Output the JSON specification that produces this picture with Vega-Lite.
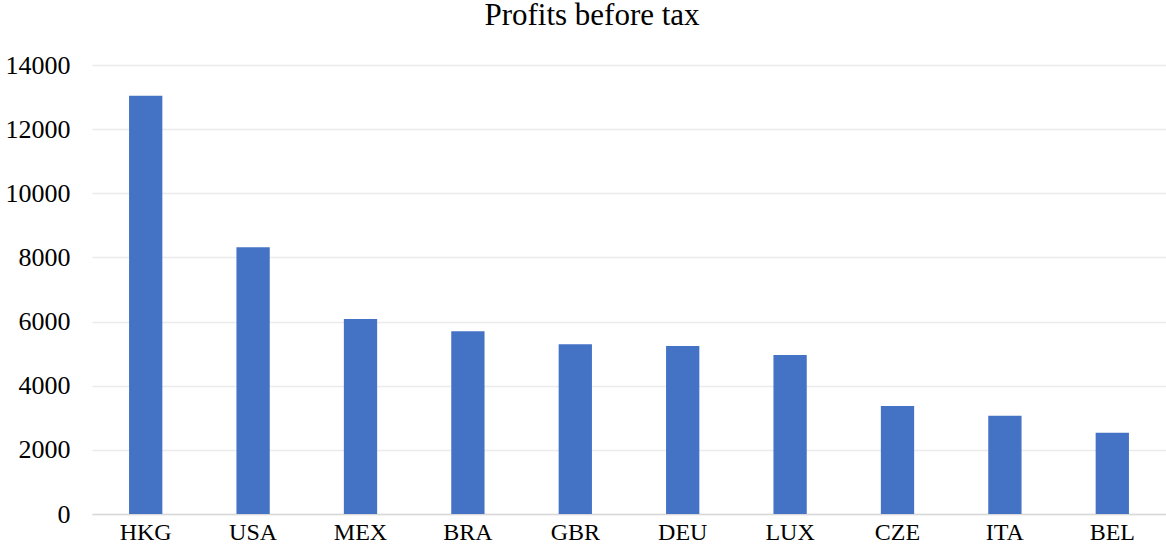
{
  "$schema": "https://vega.github.io/schema/vega-lite/v6.json",
  "width": 1074,
  "height": 449,
  "autosize": {"type": "none"},
  "padding": {"left": 92, "top": 65, "right": 0, "bottom": 37},
  "background": "white",
  "title": {
    "text": "Profits before tax",
    "font": "Liberation Serif",
    "fontSize": 31,
    "fontWeight": "normal",
    "color": "#000000",
    "anchor": "middle",
    "dx": -37,
    "offset": 20
  },
  "data": {
    "values": [
      {"country": "HKG", "profit": 13040},
      {"country": "USA", "profit": 8320},
      {"country": "MEX", "profit": 6080},
      {"country": "BRA", "profit": 5700},
      {"country": "GBR", "profit": 5290},
      {"country": "DEU", "profit": 5240},
      {"country": "LUX", "profit": 4960},
      {"country": "CZE", "profit": 3370},
      {"country": "ITA", "profit": 3060},
      {"country": "BEL", "profit": 2530}
    ]
  },
  "mark": {"type": "bar", "color": "#4472C4"},
  "encoding": {
    "x": {
      "field": "country",
      "type": "nominal",
      "sort": null,
      "scale": {"paddingInner": 0.69, "paddingOuter": 0.345},
      "axis": {
        "title": null,
        "labelAngle": 0,
        "labelFont": "Liberation Serif",
        "labelFontSize": 24,
        "labelColor": "#000000",
        "labelPadding": 6,
        "ticks": false,
        "domainColor": "#d9d9d9",
        "domainWidth": 1.5,
        "grid": false
      }
    },
    "y": {
      "field": "profit",
      "type": "quantitative",
      "scale": {"domain": [0, 14000], "nice": false},
      "axis": {
        "title": null,
        "values": [0, 2000, 4000, 6000, 8000, 10000, 12000, 14000],
        "format": "d",
        "labelFont": "Liberation Serif",
        "labelFontSize": 26,
        "labelColor": "#000000",
        "labelPadding": 22,
        "ticks": false,
        "domain": false,
        "gridColor": "#ebebeb",
        "gridWidth": 1.5
      }
    }
  },
  "config": {"view": {"stroke": null}}
}
